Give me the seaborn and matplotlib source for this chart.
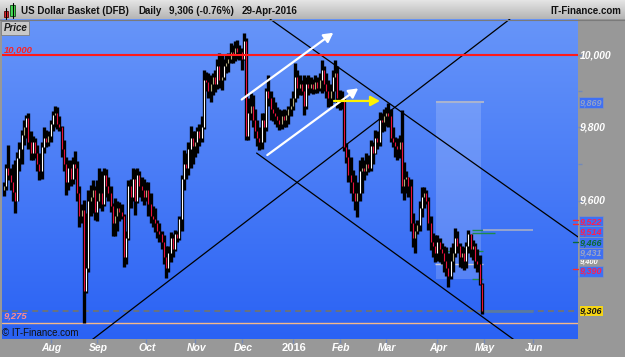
import numpy as np
import pandas as pd
import matplotlib
matplotlib.use("Agg")
import matplotlib.pyplot as plt
import seaborn as sns
from matplotlib.patches import Rectangle
from matplotlib.colors import LinearSegmentedColormap
from matplotlib.ticker import FixedLocator, NullLocator, NullFormatter

sns.set_theme(style="white")
plt.rcParams["font.family"] = ["Liberation Sans", "DejaVu Sans"]

# ---------------- data (daily bars, 3-Jul-2015 .. 29-Apr-2016) ----------------
start_date = "2015-07-03"
first_open = 9630
highs = [
    9650, 9700, 9752, 9690, 9700, 9710, 9732, 9760, 9793, 9821, 9835, 9840, 9790, 9776, 9770, 9752, 9730, 9760, 9800, 9793, 9790,
    9820, 9845, 9860, 9855, 9830, 9805, 9766, 9720, 9711, 9711, 9720, 9735, 9708, 9640, 9590, 9603, 9568, 9630, 9643, 9657, 9640,
    9655, 9690, 9680, 9690, 9685, 9665, 9640, 9595, 9608, 9600, 9597, 9590, 9565, 9520, 9657, 9660, 9690, 9685, 9690, 9680, 9665, 9660,
    9650, 9650, 9620, 9586, 9580, 9549, 9540, 9520, 9509, 9480, 9480, 9516, 9510, 9522, 9520, 9560, 9670, 9738, 9730, 9760, 9804, 9790,
    9790, 9800, 9810, 9830, 9959, 9954, 9950, 9945, 9952, 9959, 9990, 10008, 10000, 9990, 10000, 10008, 10035, 10030, 10040, 10043, 10030,
    10021, 10063, 10050, 9880, 9896, 9890, 9850, 9821, 9800, 9840, 9840, 9910, 9945, 9900, 9884, 9870, 9857, 9850, 9849, 9850, 9849, 9860, 9880,
    9900, 9979, 9960, 9945, 9930, 9945, 9940, 9945, 9940, 9935, 9945, 9940, 9950, 9987, 9970, 9952, 9930, 9920, 9960, 9987, 9970,
    9904, 9900, 9884, 9758, 9740, 9720, 9684, 9670, 9650, 9711, 9719, 9710, 9730, 9725, 9766, 9760, 9793, 9790, 9843, 9840, 9850,
    9857, 9868, 9850, 9800, 9774, 9770, 9780, 9849, 9706, 9680, 9665, 9660, 9568, 9540, 9549, 9600, 9638, 9638, 9630, 9610, 9560, 9514, 9509,
    9509, 9500, 9487, 9480, 9477, 9460, 9477, 9487, 9527, 9520, 9487, 9480, 9477, 9490, 9522, 9510, 9495, 9487, 9470, 9456, 9380,
]
lows = [
    9612, 9630, 9655, 9630, 9600, 9568, 9600, 9680, 9700, 9752, 9770, 9740, 9711, 9711, 9715, 9680, 9657, 9660, 9730, 9745, 9750,
    9760, 9790, 9800, 9795, 9790, 9720, 9680, 9616, 9630, 9640, 9645, 9660, 9600, 9530, 9540, 9277, 9355, 9410, 9560, 9568, 9549,
    9546, 9580, 9573, 9585, 9610, 9600, 9570, 9505, 9505, 9520, 9546, 9550, 9424, 9430, 9495, 9580, 9600, 9562, 9595, 9610, 9600, 9589,
    9600, 9560, 9540, 9530, 9516, 9500, 9490, 9470, 9430, 9394, 9410, 9437, 9450, 9465, 9490, 9495, 9520, 9630, 9660, 9670, 9690, 9700,
    9720, 9730, 9750, 9760, 9795, 9900, 9880, 9871, 9890, 9899, 9905, 9910, 9904, 9930, 9952, 9955, 9979, 9979, 9985, 9990, 9987,
    9960, 9987, 9766, 9766, 9820, 9800, 9770, 9750, 9738, 9740, 9760, 9790, 9860, 9820, 9818, 9810, 9800, 9793, 9795, 9800, 9801, 9810, 9830,
    9849, 9870, 9880, 9890, 9890, 9835, 9850, 9890, 9895, 9893, 9895, 9895, 9900, 9896, 9900, 9880, 9857, 9860, 9870, 9900, 9854,
    9849, 9850, 9735, 9703, 9650, 9621, 9600, 9576, 9555, 9600, 9621, 9657, 9670, 9678, 9680, 9700, 9728, 9740, 9750, 9787, 9790,
    9804, 9800, 9760, 9747, 9720, 9711, 9715, 9620, 9603, 9620, 9610, 9520, 9477, 9461, 9510, 9520, 9555, 9580, 9590, 9522, 9469, 9450, 9437,
    9440, 9437, 9430, 9410, 9400, 9371, 9390, 9410, 9450, 9460, 9424, 9420, 9416, 9420, 9460, 9450, 9442, 9420, 9410, 9375, 9300,
]
closes = [
    9640, 9690, 9670, 9650, 9625, 9600, 9715, 9740, 9780, 9800, 9825, 9760, 9730, 9760, 9730, 9700, 9680, 9745, 9770, 9760, 9775,
    9810, 9835, 9840, 9810, 9800, 9740, 9700, 9650, 9690, 9660, 9700, 9690, 9620, 9560, 9575, 9360, 9420, 9600, 9610, 9630, 9570,
    9600, 9620, 9590, 9670, 9640, 9620, 9585, 9540, 9560, 9580, 9570, 9560, 9450, 9500, 9640, 9610, 9660, 9600, 9670, 9640, 9630, 9610,
    9630, 9590, 9560, 9550, 9540, 9520, 9510, 9490, 9450, 9420, 9460, 9500, 9470, 9510, 9500, 9550, 9660, 9700, 9690, 9740, 9770, 9750,
    9760, 9790, 9770, 9800, 9930, 9925, 9900, 9920, 9940, 9920, 9970, 9930, 9940, 9970, 9980, 9990, 10010, 10000, 10020, 10010, 10010,
    9990, 10040, 9775, 9840, 9860, 9820, 9790, 9770, 9760, 9820, 9800, 9900, 9880, 9850, 9840, 9830, 9820, 9810, 9830, 9820, 9835, 9850, 9860,
    9880, 9940, 9910, 9920, 9900, 9860, 9920, 9910, 9920, 9905, 9925, 9910, 9930, 9960, 9920, 9900, 9880, 9900, 9940, 9950, 9880,
    9880, 9880, 9745, 9720, 9670, 9650, 9620, 9600, 9620, 9680, 9690, 9680, 9700, 9690, 9750, 9730, 9770, 9760, 9820, 9815, 9830,
    9840, 9830, 9770, 9760, 9750, 9740, 9760, 9640, 9660, 9665, 9640, 9540, 9500, 9520, 9535, 9580, 9610, 9620, 9600, 9540, 9490, 9480, 9460,
    9490, 9470, 9460, 9440, 9420, 9400, 9440, 9460, 9500, 9480, 9450, 9460, 9440, 9480, 9510, 9470, 9480, 9440, 9430, 9377, 9306,
]
assert len(highs) == len(lows) == len(closes) == 216

month_labels = ["Aug", "Sep", "Oct", "Nov", "Dec", "2016", "Feb", "Mar", "Apr", "May", "Jun"]
price_ticks = [9600, 9800, 10000]
price_tick_labels = ["9,600", "9,800", "10,000"]
title_name = "US Dollar Basket (DFB)"
title_period = "Daily"
title_date = "29-Apr-2016"
change_pct = -0.76
level_red = 10000
level_support = 9275

# annotation objects (bar index, price)
trend_lines = pd.DataFrame({
    "line": ["a", "a", "b", "b", "c", "c"],
    "x": [119.7, 258.3, 39.5, 227.7, 113.7, 232.8],
    "v": [10103, 9503, 9231.6, 10103, 9729.5, 9218.6],
})
arrows_white = [((107.0, 9877), (148.2, 10064)), ((118.5, 9724), (159.4, 9908))]
arrow_yellow = ((148.5, 9873), (169.2, 9873))
zone = (194.4, 214.6, 9390, 9869)
segments = [  # value, start, end, color, lw
    (9869, 194.4, 216.0, "#a9b3cf", 1.5),
    (9522, 210.4, 215.7, "#1f8a4c", 1.0),
    (9514, 210.4, 220.9, "#1f8a4c", 1.0),
    (9522, 215.7, 238.0, "#a5adc8", 1.2),
    (9466, 194.7, 215.7, "#1f8a4c", 1.0),
    (9431, 193.9, 215.7, "#c8cad8", 1.0),
    (9390, 210.4, 215.7, "#1f8a4c", 1.0),
    (9306, 215.7, 238.0, "#5a7aa0", 2.0),
]
side_labels = [  # pixel y, text, text colour, box colour
    (102.7, "9,869", "#93a2c8", "#3f70f3"),
    (221.6, "9,522", "#ff1f4f", "#3f70f3"),
    (231.8, "9,514", "#ff1f4f", "#3f70f3"),
    (242.6, "9,466", "#0c6a35", "#3f70f3"),
    (253.2, "9,431", "#9aa4c6", "#3f70f3"),
    (271.4, "9,390", "#ff1f4f", "#3f70f3"),
    (310.7, "9,306", "#111111", "#f5d516"),
]

# ---------------- figure ----------------
W, H = 625, 357
fig = plt.figure(figsize=(W / 100, H / 100), dpi=100, facecolor="#989898")


def rect_px(x0, y0, x1, y1):
    return [x0 / W, 1 - y1 / H, (x1 - x0) / W, (y1 - y0) / H]


PLOT = (2, 19, 578, 339.3)
grad = np.linspace(0, 1, 256).reshape(-1, 1)

bg = fig.add_axes(rect_px(*PLOT), zorder=0)
bg.imshow(grad, aspect="auto", extent=[0, 1, 0, 1], origin="upper",
          cmap=LinearSegmentedColormap.from_list("bg", ["#6795f9", "#2a62f4"]))
bg.set_axis_off()

ax = fig.add_axes(rect_px(*PLOT), zorder=1)
ax.set_facecolor("none")
ax.set_yscale("log")

n = len(closes)
xs = np.arange(n)
o = np.array([first_open] + closes[:-1], float)
c = np.array(closes, float)
h = np.maximum(np.array(highs, float), np.maximum(o, c))
l = np.minimum(np.array(lows, float), np.minimum(o, c))

# zone box
ax.add_patch(Rectangle((zone[0], zone[2]), zone[1] - zone[0], zone[3] - zone[2],
                       facecolor="white", alpha=0.17, edgecolor="none", zorder=1.5))

# horizontal levels
ax.axhline(level_support, color="#f4b88a", lw=1.0, zorder=2)
ax.axhline(closes[-1], color="#69727f", lw=1.4, ls=(0, (3, 2.2)), zorder=2)
for v, s, e, col, lw in segments:
    ax.plot([s, e], [v, v], color=col, lw=lw, zorder=2.5, solid_capstyle="butt")

# trend lines (seaborn)
sns.lineplot(data=trend_lines, x="x", y="v", units="line", estimator=None,
             color="black", linewidth=0.9, ax=ax, legend=False, zorder=3)

# candles
ax.vlines(xs, l, h, colors="black", linewidth=2.4, zorder=4)
body_col = np.where(c < o, "#e5113d", np.where(c - o >= 25, "#ffffff", "#b3aa7d"))
ax.vlines(xs, np.minimum(o, c), np.maximum(o, c), colors=body_col, linewidth=0.8, zorder=5)

ax.axhline(level_red, color="#ff1a1a", lw=1.5, zorder=6)

# arrows
for (x0, y0), (x1, y1) in arrows_white:
    ax.annotate("", xy=(x1, y1), xytext=(x0, y0), zorder=7,
                arrowprops=dict(arrowstyle="-|>,head_length=0.55,head_width=0.3",
                                color="white", lw=1.6, shrinkA=0, shrinkB=0, mutation_scale=10))
(x0, y0), (x1, y1) = arrow_yellow
ax.annotate("", xy=(x1, y1), xytext=(x0, y0), zorder=7,
            arrowprops=dict(arrowstyle="-|>,head_length=0.55,head_width=0.3",
                            color="#fff200", lw=1.6, shrinkA=0, shrinkB=0, mutation_scale=10))

# axes / ticks
full = pd.bdate_range(start_date, "2016-07-01")
month_start = [i for i in range(1, len(full)) if full[i].month != full[i - 1].month][:len(month_labels)]
ax.set_xlim(-0.85, 258.3)
ax.set_ylim(9233.5, 10103)
ax.set_xlabel("")
ax.set_ylabel("")
for s in ax.spines.values():
    s.set_visible(False)
ax.yaxis.set_ticks_position("right")
ax.yaxis.set_major_locator(FixedLocator([9400, 9500, 9600, 9700, 9800, 9900, 10000]))
ax.yaxis.set_major_formatter(NullFormatter())
ax.yaxis.set_minor_locator(NullLocator())
ax.yaxis.set_minor_formatter(NullFormatter())
ax.xaxis.set_ticks_position("bottom")
ax.xaxis.set_major_locator(FixedLocator(month_start))
ax.xaxis.set_major_formatter(NullFormatter())
ax.xaxis.set_minor_locator(NullLocator())
ax.tick_params(axis="both", which="major", direction="out", length=3, width=1, color="#7389b8")

ytr = ax.get_yaxis_transform()
for v, lab in zip(price_ticks, price_tick_labels):
    ax.text(1.0035, v, lab, transform=ytr, color="white", fontsize=7.5, fontweight="bold",
            style="italic", ha="left", va="center", clip_on=False)
xtr = ax.get_xaxis_transform()
for pos, lab in zip(month_start, month_labels):
    ax.text(pos + 0.5, -0.027, lab, transform=xtr, color="white",
            fontsize=8 if lab.isdigit() else 7.5, fontweight="bold",
            style="normal" if lab.isdigit() else "italic",
            ha="center", va="center", clip_on=False)

# title bar
tb = fig.add_axes(rect_px(0, 0, 625, 19.5), zorder=5)
tb.imshow(grad, aspect="auto", extent=[0, 1, 0, 1], origin="upper",
          cmap=LinearSegmentedColormap.from_list("tb", ["#e8e8e8", "#b4b4b4"]))
tb.set_axis_off()

# overlay in pixel coordinates
ov = fig.add_axes([0, 0, 1, 1], zorder=10)
ov.set_xlim(0, W)
ov.set_ylim(H, 0)
ov.set_axis_off()
ov.patch.set_alpha(0)

ov.plot([0, W], [19.5, 19.5], color="#7a7a7a", lw=0.8)
# icon
ov.plot([5.5, 5.5], [8, 19], color="black", lw=0.8)
ov.add_patch(Rectangle((3.5, 10.5), 4, 6, facecolor="#e2262f", edgecolor="#5a0000", lw=0.6))
ov.plot([12.5, 12.5], [2.5, 18], color="black", lw=0.8)
ov.add_patch(Rectangle((10.3, 5), 4.4, 11, facecolor="#45dc55", edgecolor="#0a4a10", lw=0.6))

tkw = dict(fontsize=7, fontweight="bold", color="#111111", va="center")
ov.text(21, 10.5, title_name, **tkw)
ov.text(138, 10.5, title_period, **tkw)
ov.text(169, 10.5, f"{closes[-1]:,} ({change_pct:+.2f}%)", **tkw)
ov.text(242, 10.5, title_date, **tkw)
ov.text(621.5, 10.5, "IT-Finance.com", ha="right", **tkw)

ov.add_patch(Rectangle((1, 20.5), 28, 14.5, facecolor="#c9c9c9", edgecolor="#7e7e7e", lw=0.6))
ov.text(4, 28, "Price", fontsize=7, fontweight="bold", style="italic", color="#1a1a1a", va="center")

ov.text(4, 49.5, f"{level_red:,}", fontsize=6.8, fontweight="bold", style="italic", color="#ff2222", va="center")
ov.text(4, 316.5, f"{level_support:,}", fontsize=6.8, fontweight="bold", style="italic", color="#ff8c8c", va="center")
ov.text(2, 333, "\u00a9 IT-Finance.com", fontsize=7, color="#111111", va="center")

# side markers and boxed labels
for yy, col in [(220, "#ff2a2a"), (224, "#ff2a2a"), (241.7, "#0c6a35"), (269.3, "#ff2a2a")]:
    ov.plot([573, 577.5], [yy, yy], color=col, lw=1.0)
ov.text(580, 262.0, "9,400", fontsize=5.4, fontweight="bold", style="italic", color="white", va="center")
for yy, txt, tc, bc in side_labels:
    ov.text(580, yy, txt, fontsize=6.5, fontweight="bold", style="italic", color=tc, va="center",
            bbox=dict(boxstyle="square,pad=0.1", facecolor=bc, edgecolor="#8592b2", lw=0.6))

fig.savefig("out.png", dpi=100, facecolor=fig.get_facecolor())
